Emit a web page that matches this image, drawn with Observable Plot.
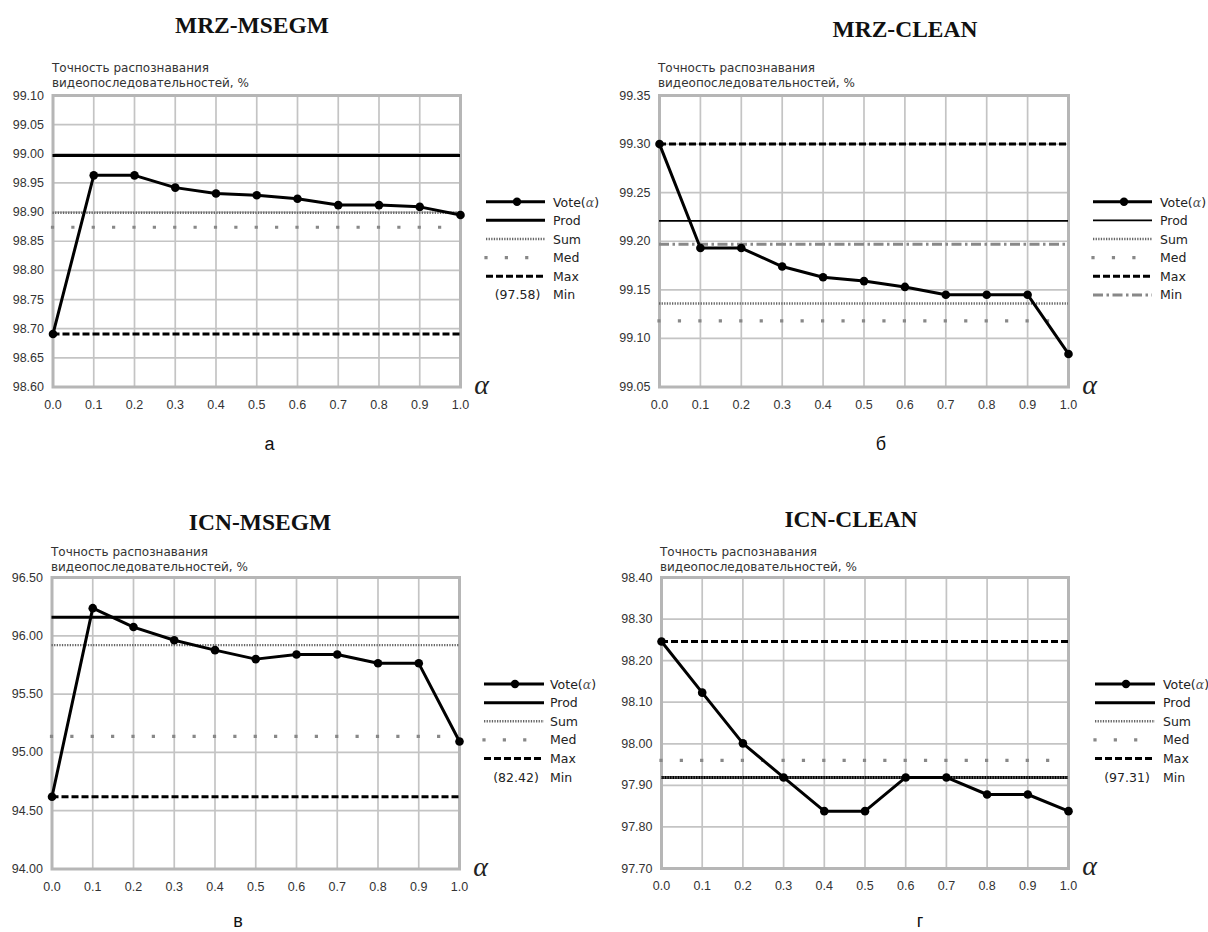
<!DOCTYPE html>
<html><head><meta charset="utf-8">
<script src="https://cdn.jsdelivr.net/npm/d3@7"></script>
<script src="https://cdn.jsdelivr.net/npm/@observablehq/plot@0.6"></script>
<style>
html,body{margin:0;padding:0;background:#fff;}
#root{position:relative;width:1208px;height:932px;overflow:hidden;background:#fff;}
</style></head><body><div id="root"></div>
<script>
// ---------- data ----------
const alphas = [0.0, 0.1, 0.2, 0.3, 0.4, 0.5, 0.6, 0.7, 0.8, 0.9, 1.0];
const legendNames = ["Vote(α)", "Prod", "Sum", "Med", "Max", "Min"];
const refNames = ["Prod", "Sum", "Med", "Max", "Min"];
const titles = ["MRZ-MSEGM", "MRZ-CLEAN", "ICN-MSEGM", "ICN-CLEAN"];
const letters = ["а", "б", "в", "г"];
const yLabelLines = ["Точность распознавания", "видеопоследовательностей, %"];

const voteA = [98.691, 98.963, 98.963, 98.942, 98.932, 98.929, 98.923, 98.912, 98.912, 98.909, 98.895];
const refA = [98.997, 98.899, 98.874, 98.691, 97.58];
const yTicksA = [98.60, 98.65, 98.70, 98.75, 98.80, 98.85, 98.90, 98.95, 99.00, 99.05, 99.10];

const voteB = [99.300, 99.193, 99.193, 99.174, 99.163, 99.159, 99.153, 99.145, 99.145, 99.145, 99.084];
const refB = [99.221, 99.136, 99.118, 99.300, 99.197];
const yTicksB = [99.05, 99.10, 99.15, 99.20, 99.25, 99.30, 99.35];

const voteC = [94.62, 96.237, 96.075, 95.962, 95.877, 95.80, 95.84, 95.84, 95.764, 95.764, 95.093];
const refC = [96.16, 95.92, 95.138, 94.62, 82.42];
const yTicksC = [94.00, 94.50, 95.00, 95.50, 96.00, 96.50];

const voteD = [98.246, 98.123, 98.001, 97.919, 97.838, 97.838, 97.919, 97.919, 97.878, 97.878, 97.838];
const refD = [97.919, 97.919, 97.96, 98.246, 97.31];
const yTicksD = [97.70, 97.80, 97.90, 98.00, 98.10, 98.20, 98.30, 98.40];

const votes = [voteA, voteB, voteC, voteD];
const refs = [refA, refB, refC, refD];
const yTicksAll = [yTicksA, yTicksB, yTicksC, yTicksD];

// ---------- layout (pixels) ----------
const layout = [
  {svgLeft: 0,   frame: [52.5, 460, 95, 386.5],  titleX: 252, titleY: 33,  ylabX: 52,  ylabY: 72,  leg: {x0: 486, x1: 545, dot: 517, lab: 553, y0: 201.7},  letterX: 269.5, letterY: 450, prodW: 3},
  {svgLeft: 600, frame: [659, 1068, 95, 386.5],  titleX: 905, titleY: 37,  ylabX: 658, ylabY: 72,  leg: {x0: 1093, x1: 1152, dot: 1124, lab: 1160, y0: 201.7}, letterX: 881,   letterY: 450, prodW: 1.8},
  {svgLeft: 0,   frame: [51.5, 459, 576.5, 868], titleX: 260, titleY: 530, ylabX: 51,  ylabY: 555.7, leg: {x0: 484, x1: 544, dot: 515, lab: 550, y0: 684},    letterX: 238,   letterY: 927, prodW: 3},
  {svgLeft: 600, frame: [661, 1068, 577, 868],   titleX: 851, titleY: 527, ylabX: 660, ylabY: 555.7, leg: {x0: 1095, x1: 1155, dot: 1126, lab: 1163, y0: 684},   letterX: 920,   letterY: 927, prodW: 3}
];

const GRID = "#c4c4c4", FRAME = "#b6b6b6", TXT = "#333";
function refStyle(name, L, period) {
  switch (name) {
    case "Prod": return {stroke: "#000", strokeWidth: L.prodW};
    case "Sum":  return {stroke: "#666", strokeWidth: 2.4, strokeDasharray: "1.3,1.3"};
    case "Med":  return {stroke: "#888", strokeWidth: 3.2, strokeDasharray: `0,${period}`, strokeLinecap: "square"};
    case "Max":  return {stroke: "#000", strokeWidth: 3, strokeDasharray: "7,3"};
    case "Min":  return {stroke: "#888", strokeWidth: 3, strokeDasharray: "10,3.5,2.5,3.5"};
  }
}

const root = document.getElementById("root");

layout.forEach((L, i) => {
  const [fl, fr, ft, fb] = L.frame;
  const yTicks = yTicksAll[i];
  const y0 = yTicks[0], y1 = yTicks[yTicks.length - 1];
  const svgLeft = L.svgLeft, svgTop = ft - 16;
  const width = 560, height = fb - svgTop + 40;
  const period = (fr - fl) / 20;
  const data = alphas.map((a, j) => ({a, v: votes[i][j]}));
  const marks = [
    Plot.gridX(alphas, {stroke: GRID, strokeOpacity: 1, strokeWidth: 1.7}),
    Plot.gridY(yTicks, {stroke: GRID, strokeOpacity: 1, strokeWidth: 1.7}),
    Plot.frame({stroke: FRAME, strokeWidth: 3}),
    Plot.axisX(alphas, {tickSize: 0, tickPadding: 13, tickFormat: d3.format(".1f"), fontSize: 12.5, fontFamily: "Liberation Sans", fill: TXT, label: null}),
    Plot.axisY(yTicks, {tickSize: 0, tickPadding: 9, tickFormat: d3.format(".2f"), fontSize: 12.5, fontFamily: "Liberation Sans", fill: TXT, label: null})
  ];
  refNames.forEach((name, k) => {
    const v = refs[i][k];
    if (v >= y0 && v <= y1) marks.push(Plot.ruleY([v], refStyle(name, L, period)));
  });
  marks.push(Plot.line(data, {x: "a", y: "v", stroke: "#000", strokeWidth: 3}));
  marks.push(Plot.dot(data, {x: "a", y: "v", r: 4.3, fill: "#000", stroke: "none"}));
  marks.push(Plot.text(["α"], {frameAnchor: "bottom-right", text: d => d, dx: 21, dy: -2, fontSize: 28, fontStyle: "italic", fontFamily: "Liberation Serif", textAnchor: "middle", lineAnchor: "middle", fill: "#222"}));

  const chart = Plot.plot({
    width, height,
    marginLeft: fl - svgLeft, marginRight: width - (fr - svgLeft),
    marginTop: ft - svgTop, marginBottom: height - (fb - svgTop),
    x: {domain: [0, 1]},
    y: {domain: [y0, y1]},
    style: {background: "transparent", overflow: "visible"},
    marks
  });
  chart.style.position = "absolute";
  chart.style.left = svgLeft + "px";
  chart.style.top = svgTop + "px";
  root.appendChild(chart);
});

// ---------- overlay: titles, y labels, legends, letters ----------
const svg = d3.select(root).append("svg")
  .attr("width", 1208).attr("height", 932)
  .style("position", "absolute").style("left", 0).style("top", 0);

layout.forEach((L, i) => {
  const [fl, fr] = L.frame;
  const period = (fr - fl) / 20;
  const yTicks = yTicksAll[i];
  const y0 = yTicks[0], y1 = yTicks[yTicks.length - 1];

  svg.append("text").attr("x", L.titleX).attr("y", L.titleY)
    .attr("text-anchor", "middle").attr("font-family", "Liberation Serif")
    .attr("font-weight", "bold").attr("font-size", 23.5).attr("fill", "#111").text(titles[i]);

  yLabelLines.forEach((t, k) => {
    svg.append("text").attr("x", L.ylabX).attr("y", L.ylabY + k * 15)
      .attr("font-family", "DejaVu Sans").attr("font-size", 12).attr("fill", TXT).text(t);
  });

  svg.append("text").attr("x", L.letterX).attr("y", L.letterY)
    .attr("text-anchor", "middle").attr("font-family", "Liberation Sans")
    .attr("font-size", 18).attr("fill", "#111").text(letters[i]);

  const g = svg.append("g");
  legendNames.forEach((name, r) => {
    const y = L.leg.y0 + r * 18.65;
    const key = r === 0 ? "Vote" : name;
    if (key === "Vote") {
      g.append("line").attr("x1", L.leg.x0).attr("x2", L.leg.x1).attr("y1", y).attr("y2", y)
        .attr("stroke", "#000").attr("stroke-width", 3);
      g.append("circle").attr("cx", L.leg.dot).attr("cy", y).attr("r", 4.2).attr("fill", "#000");
    } else {
      const v = refs[i][refNames.indexOf(key)];
      if (key === "Min" && !(v >= y0 && v <= y1)) {
        g.append("text").attr("x", (L.leg.x0 + L.leg.x1) / 2 + 2).attr("y", y)
          .attr("text-anchor", "middle").attr("dominant-baseline", "central")
          .attr("font-family", "DejaVu Sans").attr("font-size", 12.5).attr("fill", "#222")
          .text("(" + d3.format(".2f")(v) + ")");
      } else {
        const s = refStyle(key, L, period);
        const ln = g.append("line").attr("x1", L.leg.x0).attr("x2", L.leg.x1).attr("y1", y).attr("y2", y)
          .attr("stroke", s.stroke).attr("stroke-width", s.strokeWidth);
        if (s.strokeDasharray) ln.attr("stroke-dasharray", s.strokeDasharray);
        if (s.strokeLinecap) ln.attr("stroke-linecap", s.strokeLinecap);
      }
    }
    const t = g.append("text").attr("x", L.leg.lab).attr("y", y)
      .attr("dominant-baseline", "central").attr("font-family", "DejaVu Sans")
      .attr("font-size", 12.5).attr("fill", "#222");
    if (r === 0) {
      const p = name.indexOf("α");
      t.append("tspan").text(name.slice(0, p));
      t.append("tspan").attr("font-family", "DejaVu Serif").attr("font-style", "italic").attr("fill", "#555").text("α");
      t.append("tspan").text(name.slice(p + 1));
    } else t.text(name);
  });
});
</script>
</body></html>
